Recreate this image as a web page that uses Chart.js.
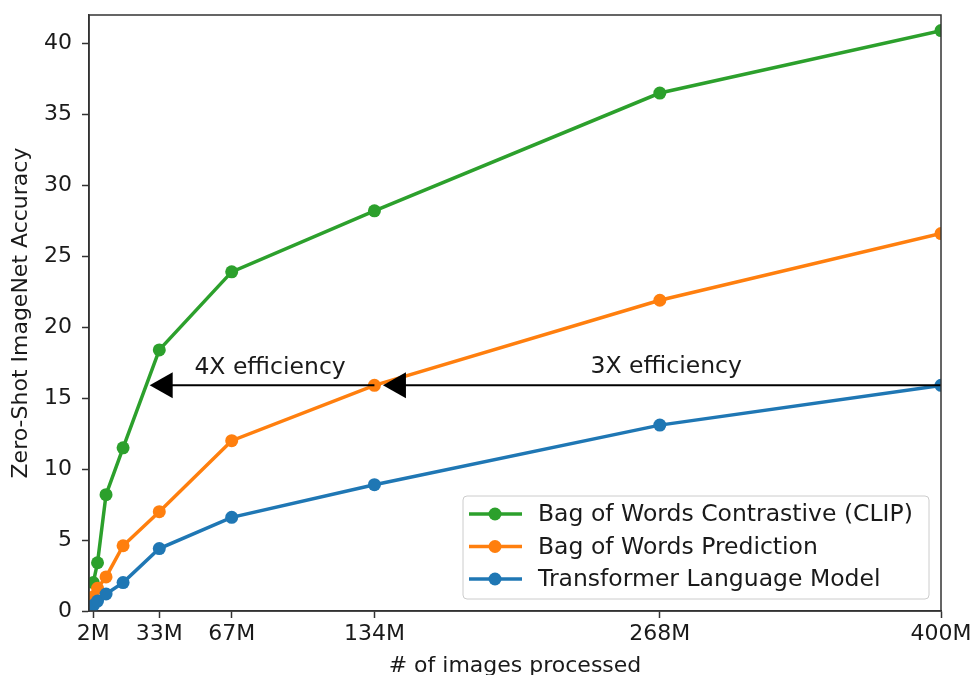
<!DOCTYPE html>
<html>
<head>
<meta charset="utf-8">
<script src="https://cdn.jsdelivr.net/npm/chart.js@4.4.1/dist/chart.umd.min.js"></script>
<style>
  html, body { margin: 0; padding: 0; background: #fff; }
  #wrap { width: 975px; height: 675px; }
</style>
</head>
<body>
<div id="wrap"><canvas id="grafico" width="975" height="675"></canvas></div>
<script>
// images processed (millions)
const imagesProcessed = [2, 4, 8, 16, 33, 67, 134, 268, 400];

// zero-shot accuracy per model
const clipAcc        = [2.0, 3.4, 8.2, 11.5, 18.4, 23.9, 28.2, 36.5, 40.9];
const bowPredAcc     = [1.0, 1.6, 2.4, 4.6, 7.0, 12.0, 15.9, 21.9, 26.6];
const transformerAcc = [0.4, 0.7, 1.2, 2.0, 4.4, 6.6, 8.9, 13.1, 15.9];

const xTickValues = [2, 33, 67, 134, 268, 400];
const xTickLabels = ['2M', '33M', '67M', '134M', '268M', '400M'];
const yTickValues = [0, 5, 10, 15, 20, 25, 30, 35, 40];

const seriesNames = ['Bag of Words Contrastive (CLIP)', 'Bag of Words Prediction', 'Transformer Language Model'];
const seriesColors = ['#2ca02c', '#ff7f0e', '#1f77b4'];

// arrows: [from x, to x, y] and their labels [text, x, y]
const arrows = [[400, 138, 15.9], [134, 28.5, 15.9]];
const arrowLabels = [['4X efficiency', 85, 17.1], ['3X efficiency', 271, 17.2]];

const FONT = "'DejaVu Sans', sans-serif";
Chart.defaults.font.family = FONT;
Chart.defaults.color = '#1a1a1a';

const puntos = (ys) => imagesProcessed.map((x, i) => ({ x: x, y: ys[i] }));

function serie(nombre, color, ys) {
  return {
    label: nombre,
    data: puntos(ys),
    borderColor: color,
    backgroundColor: color,
    borderWidth: 3.5,
    pointRadius: 6.5,
    pointHoverRadius: 6.5,
    pointBorderWidth: 0,
    pointBackgroundColor: color,
    tension: 0,
    clip: 0
  };
}

// frame, arrows, texts and legend
const extras = {
  id: 'extras',
  afterDatasetsDraw(chart) {
    const { ctx, chartArea: a, scales } = chart;
    const x = scales.x, y = scales.y;
    ctx.save();

    // arrows
    ctx.strokeStyle = '#000';
    ctx.fillStyle = '#000';
    ctx.lineWidth = 2;
    arrows.forEach(([x0, x1, yv]) => {
      const px0 = x.getPixelForValue(x0);
      const px1 = x.getPixelForValue(x1);
      const py = y.getPixelForValue(yv);
      ctx.beginPath();
      ctx.moveTo(px0, py);
      ctx.lineTo(px1 + 20, py);
      ctx.stroke();
      ctx.beginPath();
      ctx.moveTo(px1, py);
      ctx.lineTo(px1 + 23, py - 13);
      ctx.lineTo(px1 + 23, py + 13);
      ctx.closePath();
      ctx.fill();
    });

    ctx.font = '23.5px ' + FONT;
    ctx.fillStyle = '#1a1a1a';
    ctx.textAlign = 'center';
    ctx.textBaseline = 'middle';
    arrowLabels.forEach(([t, xv, yv]) => {
      ctx.fillText(t, x.getPixelForValue(xv), y.getPixelForValue(yv));
    });

    // frame
    ctx.strokeStyle = '#333';
    ctx.lineWidth = 1.5;
    ctx.strokeRect(a.left, a.top, a.right - a.left, a.bottom - a.top);

    // legend
    const w = 466, h = 103;
    const lx = a.right - 12 - w, ly = a.bottom - 12 - h;
    ctx.beginPath();
    ctx.roundRect(lx, ly, w, h, 4);
    ctx.fillStyle = 'rgba(255,255,255,0.85)';
    ctx.fill();
    ctx.strokeStyle = '#ccc';
    ctx.lineWidth = 1;
    ctx.stroke();
    ctx.font = '23.5px ' + FONT;
    ctx.textAlign = 'left';
    seriesNames.forEach((nombre, i) => {
      const ry = ly + 18 + i * 32.5;
      ctx.strokeStyle = seriesColors[i];
      ctx.lineWidth = 3.5;
      ctx.beginPath();
      ctx.moveTo(lx + 6, ry);
      ctx.lineTo(lx + 59, ry);
      ctx.stroke();
      ctx.fillStyle = seriesColors[i];
      ctx.beginPath();
      ctx.arc(lx + 32, ry, 6.5, 0, Math.PI * 2);
      ctx.fill();
      ctx.fillStyle = '#1a1a1a';
      ctx.fillText(nombre, lx + 75, ry + 1);
    });
    ctx.restore();
  }
};

const config = {
  type: 'line',
  data: {
    // blue first so it is drawn on top
    datasets: [
      serie(seriesNames[2], seriesColors[2], transformerAcc),
      serie(seriesNames[1], seriesColors[1], bowPredAcc),
      serie(seriesNames[0], seriesColors[0], clipAcc)
    ]
  },
  options: {
    responsive: false,
    animation: false,
    devicePixelRatio: 1,
    layout: { padding: { top: 15, right: 34, left: 0, bottom: 0 } },
    plugins: { legend: { display: false }, tooltip: { enabled: false } },
    events: [],
    scales: {
      x: {
        type: 'linear',
        min: 0,
        max: 400,
        afterFit: (s) => { s.height = 64; s.paddingLeft = 0; s.paddingRight = 0; },
        afterBuildTicks: (s) => { s.ticks = xTickValues.map(v => ({ value: v })); },
        ticks: {
          autoSkip: false,
          maxRotation: 0,
          padding: 3,
          font: { size: 22 },
          callback: (v) => xTickLabels[xTickValues.indexOf(v)]
        },
        grid: { drawOnChartArea: false, drawTicks: true, tickLength: 7, tickWidth: 1.5, tickColor: '#333' },
        border: { display: true, color: '#333', width: 1.5 },
        title: { display: true, text: '# of images processed', font: { size: 22 }, padding: { top: 0, bottom: -4 } }
      },
      y: {
        min: 0,
        max: 42,
        afterFit: (s) => { s.width = 89; s.paddingTop = 0; s.paddingBottom = 0; },
        afterBuildTicks: (s) => { s.ticks = yTickValues.map(v => ({ value: v })); },
        ticks: { padding: 10, font: { size: 22 } },
        grid: { drawOnChartArea: false, drawTicks: true, tickLength: 7, tickWidth: 1.5, tickColor: '#333' },
        border: { display: true, color: '#333', width: 1.5 },
        title: { display: true, text: 'Zero-Shot ImageNet Accuracy', font: { size: 22 }, padding: { top: 8, bottom: 0 } }
      }
    }
  },
  plugins: [extras]
};

new Chart(document.getElementById('grafico').getContext('2d'), config);
</script>
</body>
</html>
